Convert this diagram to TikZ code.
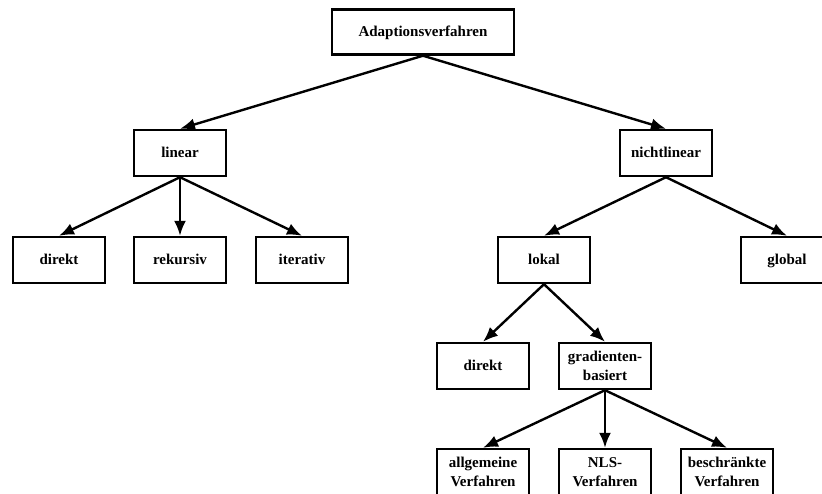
\documentclass[tikz,border=0pt]{standalone}
\usepackage{fontspec}
\setmainfont{Liberation Serif}
\usetikzlibrary{arrows.meta}
\begin{document}
\begin{tikzpicture}[x=1pt,y=-1pt,
  box/.style={draw, line width=2.4pt, minimum width=92pt, minimum height=46pt,
    inner sep=2pt, align=center, font=\fontsize{15}{18.5}\selectfont\bfseries},
  onebox/.style={box, text height=10.5pt, text depth=2pt},
  topbox/.style={onebox, minimum width=182pt, minimum height=45pt},
  edge/.style={line width=2.4pt, -{Latex[length=15pt,width=12pt]}}]
  \useasboundingbox (0,0) rectangle (822,493);
  \clip (0,0) rectangle (822,493);
  % tree nodes
  \node[topbox] (root) at (423,32) {Adaptionsverfahren};
  \node[onebox] (lin) at (180,153) {linear};
  \node[onebox] (nlin) at (666,153) {nichtlinear};
  \node[onebox] (ldir) at (59,260) {direkt};
  \node[onebox] (rek) at (180,260) {rekursiv};
  \node[onebox] (iter) at (302,260) {iterativ};
  \node[onebox] (lok) at (544,260) {lokal};
  \node[onebox] (glob) at (787,260) {global};
  \node[onebox] (ndir) at (483,366) {direkt};
  \node[box] (grad) at (605,366) {gradienten-\\basiert};
  \node[box] (allg) at (483,472) {allgemeine\\Verfahren};
  \node[box] (nls) at (605,472) {NLS-\\Verfahren};
  \node[box] (besch) at (727,472) {beschränkte\\Verfahren};
  % connectors
  \draw[edge] (root.south) -- (lin.north);
  \draw[edge] (root.south) -- (nlin.north);
  \draw[edge] (lin.south) -- (ldir.north);
  \draw[edge] (lin.south) -- (rek.north);
  \draw[edge] (lin.south) -- (iter.north);
  \draw[edge] (nlin.south) -- (lok.north);
  \draw[edge] (nlin.south) -- (glob.north);
  \draw[edge] (lok.south) -- (ndir.north);
  \draw[edge] (lok.south) -- (grad.north);
  \draw[edge] (grad.south) -- (allg.north);
  \draw[edge] (grad.south) -- (nls.north);
  \draw[edge] (grad.south) -- (besch.north);
\end{tikzpicture}
\end{document}
